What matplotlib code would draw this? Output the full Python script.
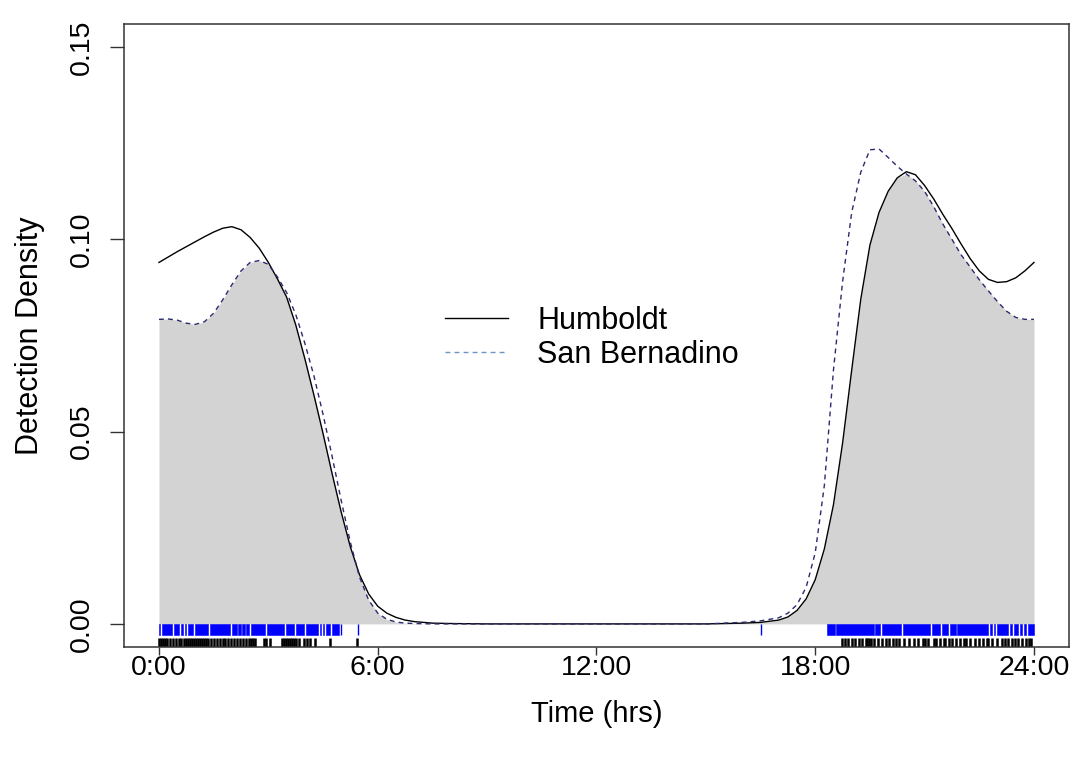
import matplotlib.pyplot as plt
import numpy as np
from matplotlib.lines import Line2D

plt.rcParams['font.family'] = ['Liberation Sans', 'DejaVu Sans']

# kernel density curves (hours, density)
hours = [0.0, 0.25, 0.5, 0.75, 1.0, 1.25, 1.5, 1.75, 2.0, 2.25, 2.5, 2.75, 3.0,
         3.25, 3.5, 3.75, 4.0, 4.25, 4.5, 4.75, 5.0, 5.25, 5.5, 5.75, 6.0, 6.25,
         6.5, 6.75, 7.0, 7.5, 8.0, 9.0, 10.0, 12.0, 14.0, 15.0, 16.0, 16.5, 17.0,
         17.25, 17.5, 17.75, 18.0, 18.25, 18.5, 18.75, 19.0, 19.25, 19.5, 19.75,
         20.0, 20.25, 20.5, 20.75, 21.0, 21.25, 21.5, 21.75, 22.0, 22.25, 22.5,
         22.75, 23.0, 23.25, 23.5, 23.75, 24.0]
humboldt = [0.0940, 0.0954, 0.0968, 0.0981, 0.0994, 0.1007, 0.1019, 0.1029, 0.1033,
            0.1025, 0.1005, 0.0977, 0.0940, 0.0897, 0.0850, 0.0778, 0.0690, 0.0595,
            0.0495, 0.0390, 0.0290, 0.0200, 0.0128, 0.0078, 0.0046, 0.0028, 0.0017,
            0.0010, 0.0006, 0.0002, 0.0001, 0.0, 0.0, 0.0, 0.0, 0.0, 0.0002, 0.0004,
            0.0010, 0.0018, 0.0035, 0.0065, 0.0115, 0.0195, 0.0310, 0.0470, 0.0660,
            0.0845, 0.0985, 0.1070, 0.1125, 0.1160, 0.1176, 0.1168, 0.1140, 0.1105,
            0.1065, 0.1028, 0.0988, 0.0950, 0.0918, 0.0896, 0.0888, 0.0890, 0.0900,
            0.0918, 0.0940]
san_bernadino = [0.0792, 0.0793, 0.0790, 0.0782, 0.0779, 0.0786, 0.0808, 0.0843, 0.0882,
                 0.0918, 0.0940, 0.0945, 0.0935, 0.0902, 0.0862, 0.0805, 0.0730, 0.0645,
                 0.0545, 0.0435, 0.0320, 0.0212, 0.0122, 0.0062, 0.0028, 0.0012, 0.0005,
                 0.0002, 0.0001, 0.0, 0.0, 0.0, 0.0, 0.0, 0.0, 0.0, 0.0004, 0.0008,
                 0.0016, 0.0028, 0.0050, 0.0095, 0.0185, 0.0360, 0.0660, 0.0890, 0.1070,
                 0.1175, 0.1233, 0.1235, 0.1213, 0.1190, 0.1170, 0.1152, 0.1125, 0.1085,
                 0.1040, 0.1000, 0.0960, 0.0928, 0.0895, 0.0866, 0.0838, 0.0813, 0.0797,
                 0.0792, 0.0792]

# rug of detection times (hours); San Bernadino is so dense it reads as runs
sb_runs = [(0.00, 0.04), (0.08, 0.36), (0.41, 0.56), (0.61, 0.65), (0.70, 0.75),
           (0.80, 0.93), (0.98, 1.35), (1.40, 1.96), (2.01, 2.13), (2.18, 2.24),
           (2.29, 2.35), (2.40, 2.48), (2.53, 2.92), (2.97, 3.44), (3.49, 3.71),
           (3.76, 3.98), (4.03, 4.37), (4.42, 4.45), (4.50, 4.53), (4.58, 4.70),
           (4.75, 4.94),
           (18.33, 18.53), (18.58, 19.60), (19.65, 19.79), (19.84, 20.36),
           (20.41, 21.16), (21.21, 21.43), (21.48, 21.65), (21.70, 21.85),
           (21.90, 22.75), (22.80, 22.86), (22.91, 22.94), (22.99, 23.30),
           (23.35, 23.41), (23.46, 23.57), (23.62, 23.68), (23.73, 23.79),
           (23.84, 24.00)]
sb_single = [4.99, 5.46, 16.52]
humboldt_rug = [0.00, 0.055, 0.11, 0.165, 0.23, 0.30, 0.38, 0.47, 0.55, 0.60, 0.69,
                0.74, 0.80, 0.85, 0.91, 0.96, 1.02, 1.07, 1.13, 1.18, 1.24, 1.29,
                1.34, 1.43, 1.51, 1.59, 1.67, 1.76, 1.81, 1.89, 1.98, 2.06, 2.14,
                2.22, 2.31, 2.39, 2.47, 2.52, 2.58, 2.63, 2.88, 2.94, 3.05, 3.37,
                3.43, 3.48, 3.54, 3.59, 3.65, 3.70, 3.76, 3.84, 3.98, 4.06, 4.14,
                4.28, 4.69, 5.43,
                18.73, 18.82, 18.91, 19.00, 19.10, 19.19, 19.29, 19.39, 19.43, 19.48,
                19.53, 19.62, 19.73, 19.84, 19.94, 20.03, 20.12, 20.22, 20.29, 20.43,
                20.57, 20.71, 20.82, 20.95, 21.02, 21.10, 21.25, 21.32, 21.43, 21.53,
                21.57, 21.67, 21.76, 21.87, 21.98, 22.08, 22.14, 22.25, 22.37, 22.48,
                22.61, 22.71, 22.75, 22.84, 22.98, 23.12, 23.21, 23.30, 23.39, 23.48,
                23.57, 23.68, 23.78, 23.85, 23.91]

time_ticks = [0, 6, 12, 18, 24]
time_labels = ['0:00', '6:00', '12:00', '18:00', '24:00']
dens_ticks = [0.0, 0.05, 0.10, 0.15]
dens_labels = ['0.00', '0.05', '0.10', '0.15']
names = ['Humboldt', 'San Bernadino']


def overlap_plot():
    fig = plt.figure(figsize=(10.8, 7.6), dpi=100)
    ax = fig.add_axes([0.1148, 0.1487, 0.875, 0.8197])

    x = np.array(hours)
    h = np.array(humboldt)
    s = np.array(san_bernadino)
    ax.fill_between(x, 0, np.minimum(h, s), color='#d3d3d3', lw=0)
    ax.plot(x, h, color='k', lw=1.0)
    ax.plot(x, s, color='#2a2a70', lw=1.0, ls=(0, (3.5, 3)))

    # rugs
    ax.broken_barh([(a, b - a) for a, b in sb_runs], (-0.0028, 0.0029),
                   facecolors='#0000ff', edgecolors='#0000ff', lw=0.4)
    ax.vlines(sb_single, -0.0028, 0.0001, color='#0000ff', lw=1.0)
    ax.vlines(humboldt_rug, -0.006, -0.0036, color='k', lw=1.8)

    ax.set_xlim(-0.96, 24.96)
    ax.set_ylim(-0.006, 0.156)
    ax.set_xticks(time_ticks)
    ax.set_xticklabels(time_labels)
    ax.set_yticks(dens_ticks)
    ax.set_yticklabels(dens_labels, rotation=90, va='center')
    ax.tick_params(axis='both', labelsize=20.5, width=1.0, color='#333333')
    ax.tick_params(axis='x', length=6, pad=-0.5)
    ax.tick_params(axis='y', length=10, pad=10.8)
    for sp in ax.spines.values():
        sp.set_linewidth(1.1)
        sp.set_color('#333333')

    ax.set_xlabel('Time (hrs)', fontsize=21, labelpad=14)
    ax.set_ylabel('Detection Density', fontsize=22, labelpad=17)

    handles = [Line2D([], [], color='k', lw=1.0),
               Line2D([], [], color='#6a93c6', lw=1.0, ls=(0, (3.5, 3)))]
    ax.legend(handles, names, loc='upper left', bbox_to_anchor=(0.340, 0.548),
              frameon=False, fontsize=22, handlelength=2.06, handletextpad=0.95,
              labelspacing=0.15, borderpad=0, borderaxespad=0)

    fig.savefig('out.png', dpi=100)


overlap_plot()
